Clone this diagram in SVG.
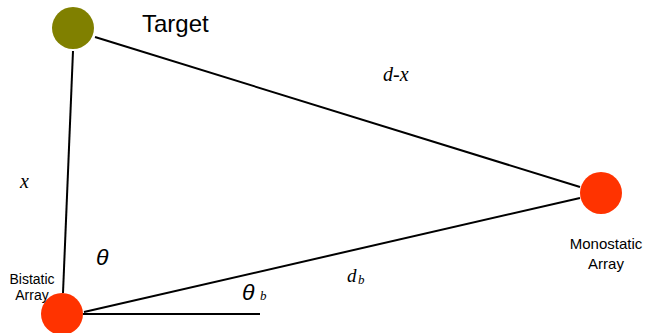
<svg xmlns="http://www.w3.org/2000/svg" width="645" height="333" viewBox="0 0 645 333">
<style>
.ln{stroke:#000;stroke-width:2;fill:none}
.sans{font-family:"Liberation Sans",Arial,sans-serif;fill:#000}
.serif{font-family:"Liberation Serif","Times New Roman",serif;font-style:italic;fill:#000}
</style>
<rect width="645" height="333" fill="#fff"/>
<g id="connectors">
<line class="ln" x1="95" y1="37" x2="580" y2="187"/>
<line class="ln" x1="73" y1="51" x2="63" y2="293"/>
<line class="ln" x1="84" y1="312" x2="580" y2="198"/>
<line class="ln" x1="83" y1="314" x2="260" y2="314"/>
</g>
<g id="target">
<circle cx="73" cy="28" r="21" fill="#808000"/>
<text class="sans" x="142" y="32" font-size="24">Target</text>
</g>
<g id="monostatic">
<circle cx="601" cy="193" r="21" fill="#FF3300"/>
<text class="sans" x="606" y="249" font-size="15" text-anchor="middle">Monostatic</text>
<text class="sans" x="606" y="269" font-size="15" text-anchor="middle">Array</text>
</g>
<g id="bistatic">
<circle cx="62" cy="314" r="21" fill="#FF3300"/>
<text class="sans" x="32" y="283.5" font-size="14" text-anchor="middle">Bistatic</text>
<text class="sans" x="32" y="299.5" font-size="14" text-anchor="middle">Array</text>
</g>
<g id="labels">
<text class="serif" x="383" y="81" font-size="20">d-x</text>
<text class="serif" x="20" y="188" font-size="20">x</text>
<text class="sans" x="96" y="265" font-size="23" font-style="italic">θ</text>
<text class="sans" x="242" y="300" font-size="23" font-style="italic">θ</text>
<text class="serif" x="260" y="300" font-size="13">b</text>
<text class="serif" x="347" y="282" font-size="19">d</text>
<text class="serif" x="358" y="284" font-size="13">b</text>
</g>
</svg>
